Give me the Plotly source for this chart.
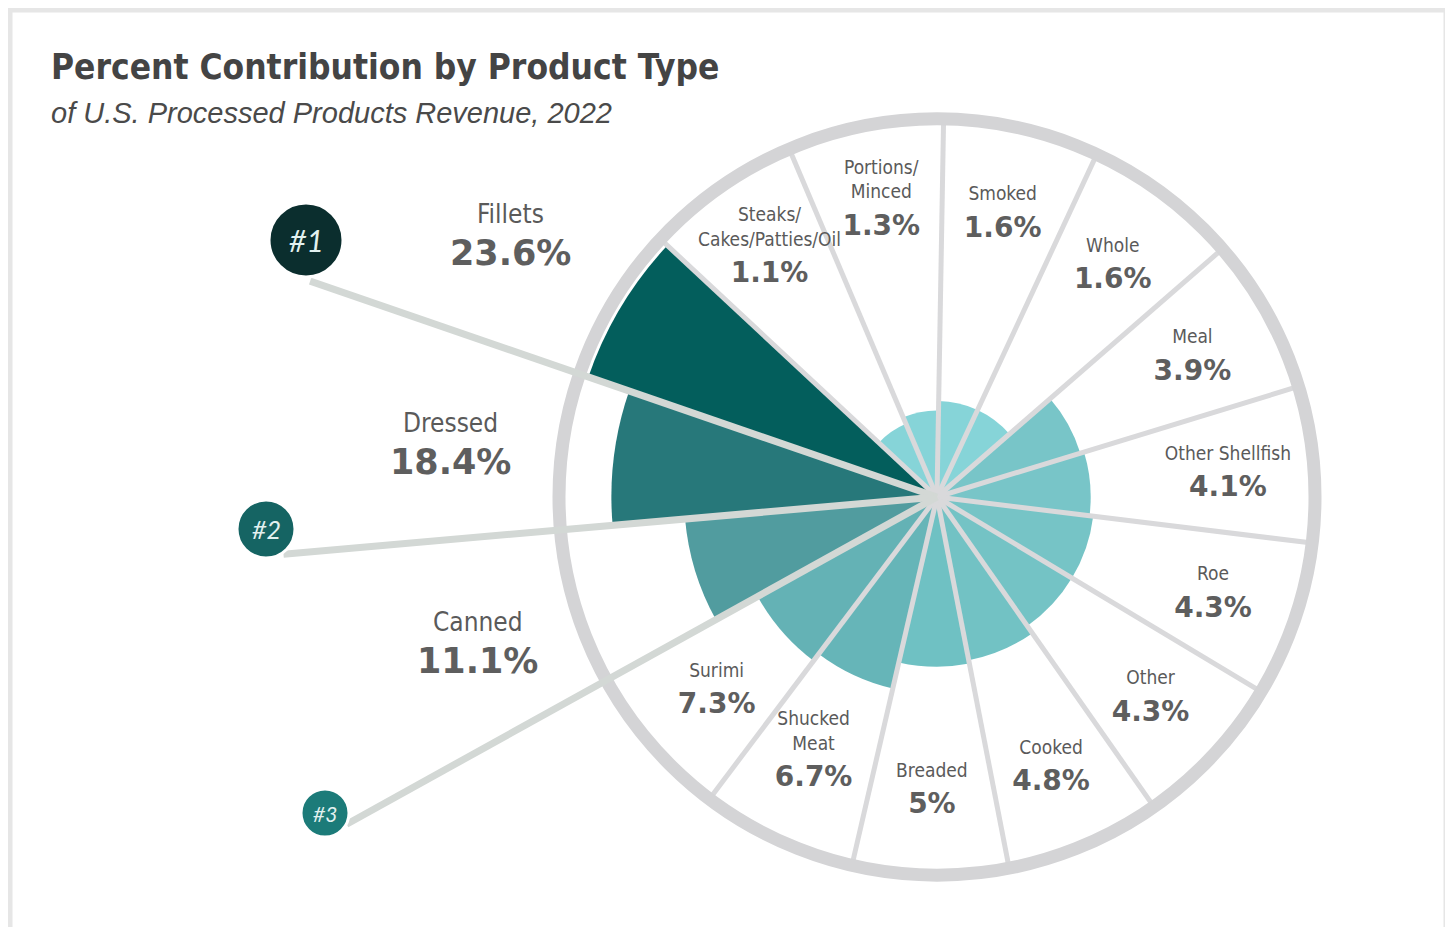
import math
import plotly.graph_objects as go

# page body has an 8px margin, so the figure is drawn inside it
OFF = 8
W, H = 1453 - 2 * OFF, 935 - 2 * OFF

# categories clockwise from 12 o'clock
categories = ["Smoked", "Whole", "Meal", "Other Shellfish", "Roe", "Other", "Cooked",
              "Breaded", "Shucked<br>Meat", "Surimi", "Canned", "Dressed", "Fillets",
              "Steaks/<br>Cakes/Patties/Oil", "Portions/<br>Minced"]
values = [1.6, 1.6, 3.9, 4.1, 4.3, 4.3, 4.8, 5, 6.7, 7.3, 11.1, 18.4, 23.6, 1.1, 1.3]
colors = ["#86d4d8", "#86d4d8", "#78c5c8", "#78c5c8", "#76c4c6", "#74c3c5", "#72c2c4",
          "#6fc1c3", "#66b5b8", "#64b2b5", "#519c9f", "#27787a", "#035e5c",
          "#86d4d8", "#86d4d8"]
pct_labels = ["1.6%", "1.6%", "3.9%", "4.1%", "4.3%", "4.3%", "4.8%", "5%", "6.7%",
              "7.3%", "11.1%", "18.4%", "23.6%", "1.1%", "1.3%"]
top3 = ["Fillets", "Dressed", "Canned"]

NARROW = "DejaVu Sans Condensed, Liberation Sans Narrow, Arial Narrow, Roboto, sans-serif"

n = len(categories)
step = 360 / n
start = 1
centers = [start + step * i + step / 2 for i in range(n)]
bounds = [start + step * i for i in range(n)]
radii = [math.sqrt(v) for v in values]  # area-proportional wedges

# geometry of the polar disc in page pixels
CX, CY, R = 937, 497, 378
RMAX = 4.98


def px(x, y):
    return (x - OFF) / W, 1 - (y - OFF) / H


fig = go.Figure()

fig.add_trace(go.Barpolar(
    r=radii, theta=centers, width=[step] * n,
    marker=dict(color=colors, line=dict(width=0)),
    hoverinfo="skip", showlegend=False,
))

# sector dividers
lr, lt = [], []
for b in bounds:
    lr += [0, RMAX, None]
    lt += [b, b, None]
fig.add_trace(go.Scatterpolar(
    r=lr, theta=lt, mode="lines",
    line=dict(color="#d9d9db", width=5),
    hoverinfo="skip", showlegend=False,
))

# labels inside the wheel
inner = [i for i, c in enumerate(categories) if c not in top3]
r_lab = 292 / R * RMAX
fig.add_trace(go.Scatterpolar(
    r=[r_lab] * len(inner), theta=[centers[i] for i in inner],
    mode="markers+text", marker=dict(size=10, opacity=0),
    text=[categories[i] for i in inner], textposition="top center",
    textfont=dict(family=NARROW, size=19, color="#5a5a5a"),
    hoverinfo="skip", showlegend=False,
))
fig.add_trace(go.Scatterpolar(
    r=[r_lab] * len(inner), theta=[centers[i] for i in inner],
    mode="markers+text", marker=dict(size=4, opacity=0),
    text=[pct_labels[i] for i in inner], textposition="bottom center",
    textfont=dict(family="DejaVu Sans", size=28, color="#5e5e5e", weight="bold"),
    hoverinfo="skip", showlegend=False,
))

shapes = []
annotations = []

# outer frame
x0, y0 = px(10, 10)
x1, y1 = px(1446, 945)
shapes.append(dict(type="rect", xref="paper", yref="paper", x0=x0, y0=y1, x1=x1, y1=y0,
                   line=dict(color="#e6e6e6", width=5), layer="below"))

# leader lines and rank badges
badges = [
    # (bound angle, line length px, badge centre px, badge radius px, colour, font size)
    (bounds[12], 663, (306, 240), 37, "#0b2e2e", 30),
    (bounds[11], 656, (266, 529), 29, "#156463", 25),
    (bounds[10], 675, (325, 813), 24, "#1c7b79", 21),
]
for ang, L, _, _, _, _ in badges:
    a = math.radians(ang)
    ex, ey = CX + L * math.sin(a), CY - L * math.cos(a)
    sx, sy = px(CX, CY)
    ex, ey = px(ex, ey)
    shapes.append(dict(type="line", xref="paper", yref="paper", x0=sx, y0=sy, x1=ex, y1=ey,
                       line=dict(color="#d3d8d5", width=7), layer="above"))
for k, (_, _, (bx, by), br, bc, fs) in enumerate(badges):
    cx0, cy0 = px(bx - br, by - br)
    cx1, cy1 = px(bx + br, by + br)
    shapes.append(dict(type="circle", xref="paper", yref="paper", x0=cx0, y0=cy1, x1=cx1, y1=cy0,
                       fillcolor=bc, line=dict(color="white", width=3), layer="above"))
    tx, ty = px(bx, by)
    annotations.append(dict(x=tx, y=ty, xref="paper", yref="paper", text=f"#{k + 1}",
                            showarrow=False, xanchor="center", yanchor="middle",
                            font=dict(family="Lato", size=fs, color="#e2f1f0", style="italic")))

# labels for the three biggest categories, outside the wheel
outer_pos = {"Fillets": (510, 231), "Dressed": (450, 440), "Canned": (478, 639)}
for name in top3:
    i = categories.index(name)
    ox, oy = px(*outer_pos[name])
    annotations.append(dict(x=ox, y=oy, xref="paper", yref="paper", text=name,
                            showarrow=False, xanchor="center", yanchor="bottom",
                            font=dict(family=NARROW, size=26, color="#5a5a5a")))
    annotations.append(dict(x=ox, y=oy, xref="paper", yref="paper", text=pct_labels[i],
                            showarrow=False, xanchor="center", yanchor="top",
                            font=dict(family="DejaVu Sans", size=35, color="#5e5e5e", weight="bold")))

# title and subtitle
tx, ty = px(49, 67)
annotations.append(dict(x=tx, y=ty, xref="paper", yref="paper",
                        text="Percent Contribution by Product Type", showarrow=False,
                        xanchor="left", yanchor="middle",
                        font=dict(family=NARROW, size=35, color="#444444", weight="bold")))
tx, ty = px(49, 113)
annotations.append(dict(x=tx, y=ty, xref="paper", yref="paper",
                        text="of U.S. Processed Products Revenue, 2022", showarrow=False,
                        xanchor="left", yanchor="middle",
                        font=dict(family="Liberation Sans", size=29, color="#4a4a4a",
                                  style="italic")))

dx0, _ = px(CX - R, 0)
dx1, _ = px(CX + R, 0)
_, dy0 = px(0, CY + R)
_, dy1 = px(0, CY - R)

fig.update_layout(
    width=W, height=H,
    margin=dict(l=0, r=0, t=0, b=0),
    paper_bgcolor="white",
    showlegend=False,
    polar=dict(
        domain=dict(x=[dx0, dx1], y=[dy0, dy1]),
        bgcolor="white",
        radialaxis=dict(range=[0, RMAX], visible=False),
        angularaxis=dict(direction="clockwise", rotation=90, showgrid=False,
                         showticklabels=False, ticks="", showline=True,
                         linecolor="#d4d4d6", linewidth=13, layer="above traces"),
    ),
    shapes=shapes,
    annotations=annotations,
)

fig.write_html("out.html")
